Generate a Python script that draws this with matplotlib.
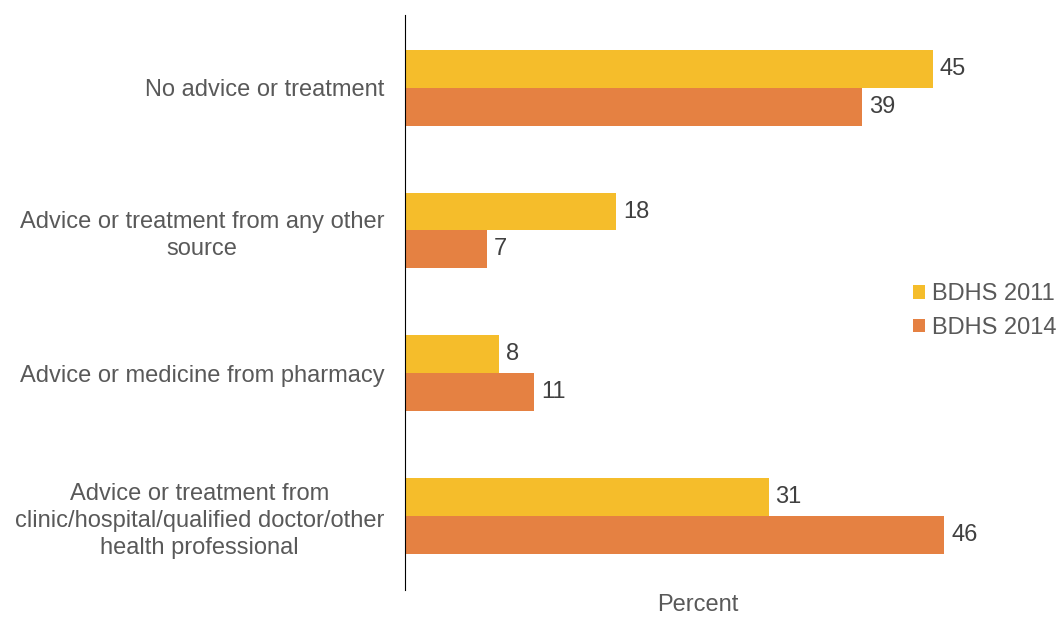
import matplotlib
matplotlib.use("Agg")
import matplotlib.pyplot as plt
import numpy as np

plt.rcParams['font.family'] = ['Liberation Sans', 'DejaVu Sans']

categories = [
    "No advice or treatment",
    "Advice or treatment from any other\nsource",
    "Advice or medicine from pharmacy",
    "Advice or treatment from\nclinic/hospital/qualified doctor/other\nhealth professional",
]
series_names = ["BDHS 2011", "BDHS 2014"]
bdhs2011 = [45, 18, 8, 31]
bdhs2014 = [39, 7, 11, 46]
colors = ["#F5BD2B", "#E58142"]
text_col = "#595959"

fig = plt.figure(figsize=(10.61, 6.17), dpi=100)
ax = fig.add_axes([405/1061, 1 - 590/617, (1050-405)/1061, (590-15)/617])

y = np.arange(len(categories))
h = 0.265
b1 = ax.barh(y - h/2, bdhs2011, height=h, color=colors[0], label=series_names[0])
b2 = ax.barh(y + h/2, bdhs2014, height=h, color=colors[1], label=series_names[1])
for bars in (b1, b2):
    ax.bar_label(bars, padding=5, fontsize=17, color="#404040")

ax.set_ylim(3.52, -0.51)
ax.set_xlim(0, 55)
ax.set_yticks(y)
ax.set_yticklabels(categories, fontsize=17, color=text_col, ha='right',
                   multialignment='center', linespacing=1.3)
ax.tick_params(axis='y', length=0, pad=15)
ax.set_xticks([])
for s in ['top', 'right', 'bottom']:
    ax.spines[s].set_visible(False)
ax.spines['left'].set_color('#000000')
ax.spines['left'].set_linewidth(0.8)

fig.text(698/1061, 1 - 605/617, "Percent", fontsize=17, color=text_col, ha='center', va='center')

leg = ax.legend(loc='center left', bbox_to_anchor=((904-405)/(1050-405), 0.485), frameon=False,
                fontsize=17, handlelength=0.5, handleheight=0.5, handletextpad=0.3,
                labelspacing=0.5, borderaxespad=0)
for t in leg.get_texts():
    t.set_color(text_col)

fig.savefig("out.png", dpi=100)
